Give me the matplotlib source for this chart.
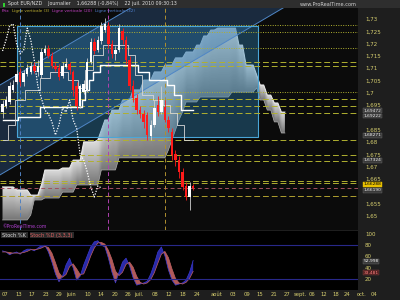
import numpy as np
import matplotlib
matplotlib.use("Agg")
import matplotlib.pyplot as plt
from matplotlib.patches import Polygon, Rectangle

# ---------------- data ----------------
opens = [1.6922, 1.6947, 1.6963, 1.7012, 1.7044, 1.7085, 1.7044, 1.7077, 1.7085, 1.7109,
         1.7085, 1.7073, 1.7162, 1.7178, 1.7150, 1.7109, 1.7101, 1.7068, 1.7105, 1.7117,
         1.7085, 1.7028, 1.6947, 1.7003, 1.7012, 1.7125, 1.7207, 1.7174, 1.7211, 1.7255,
         1.7271, 1.7198, 1.7158, 1.7174, 1.7251, 1.7215, 1.7133, 1.7028, 1.6979, 1.6930,
         1.6914, 1.6910, 1.6825, 1.6870, 1.6951, 1.6922, 1.6943, 1.6890, 1.6841, 1.6752,
         1.6727, 1.6679, 1.6622, 1.6577, 1.6622]
closes = [1.6955, 1.6971, 1.7028, 1.7032, 1.7077, 1.7044, 1.7081, 1.7101, 1.7109, 1.7089,
          1.7109, 1.7166, 1.7178, 1.7150, 1.7109, 1.7097, 1.7064, 1.7109, 1.7117, 1.7093,
          1.7012, 1.6947, 1.7028, 1.7036, 1.7125, 1.7207, 1.7170, 1.7215, 1.7271, 1.7280,
          1.7198, 1.7158, 1.7174, 1.7263, 1.7215, 1.7133, 1.7028, 1.6979, 1.6930, 1.6914,
          1.6882, 1.6829, 1.6870, 1.6938, 1.6922, 1.6971, 1.6890, 1.6857, 1.6748, 1.6727,
          1.6679, 1.6618, 1.6577, 1.6622, 1.6614]
highs = [1.6971, 1.6987, 1.7044, 1.7052, 1.7093, 1.7101, 1.7093, 1.7117, 1.7125, 1.7125,
         1.7133, 1.7182, 1.7194, 1.7194, 1.7166, 1.7125, 1.7117, 1.7125, 1.7142, 1.7125,
         1.7093, 1.7044, 1.7036, 1.7052, 1.7142, 1.7223, 1.7223, 1.7231, 1.7288, 1.7304,
         1.7288, 1.7215, 1.7190, 1.7280, 1.7263, 1.7231, 1.7150, 1.7052, 1.6995, 1.6947,
         1.6930, 1.6922, 1.6890, 1.6971, 1.6987, 1.7028, 1.6971, 1.6906, 1.6857, 1.6768,
         1.6744, 1.6695, 1.6638, 1.6638, 1.6630]
lows = [1.6898, 1.6938, 1.6955, 1.7003, 1.7036, 1.7028, 1.7028, 1.7068, 1.7077, 1.7081,
        1.7068, 1.7060, 1.7154, 1.7142, 1.7101, 1.7089, 1.7052, 1.7060, 1.7101, 1.7077,
        1.6987, 1.6930, 1.6938, 1.6995, 1.7003, 1.7117, 1.7158, 1.7166, 1.7198, 1.7247,
        1.7182, 1.7142, 1.7133, 1.7166, 1.7198, 1.7117, 1.7012, 1.6963, 1.6914, 1.6898,
        1.6857, 1.6809, 1.6809, 1.6861, 1.6906, 1.6914, 1.6882, 1.6841, 1.6727, 1.6703,
        1.6654, 1.6606, 1.6565, 1.6524, 1.6606]

tenkan = [1.6809, 1.6809, 1.6870, 1.6870, 1.6971, 1.6971, 1.6971, 1.7012, 1.7012, 1.7012,
          1.7012, 1.7060, 1.7060, 1.7060, 1.7085, 1.7085, 1.7085, 1.7085, 1.7085, 1.7052,
          1.7052, 1.7052, 1.7020, 1.7020, 1.7093, 1.7093, 1.7154, 1.7154, 1.7154, 1.7194,
          1.7194, 1.7194, 1.7194, 1.7194, 1.7194, 1.7194, 1.7154, 1.7154, 1.7073, 1.7073,
          1.6991, 1.6991, 1.6991, 1.6971, 1.6971, 1.6971, 1.6951, 1.6951, 1.6918, 1.6918,
          1.6870, 1.6870, 1.6809, 1.6809, 1.6809]
kijun = [1.6890, 1.6890, 1.6890, 1.6890, 1.6890, 1.6902, 1.6902, 1.6902, 1.6902, 1.6902,
         1.6902, 1.6943, 1.6943, 1.6943, 1.6943, 1.6943, 1.6943, 1.6943, 1.6943, 1.6943,
         1.6943, 1.6943, 1.6943, 1.6971, 1.7012, 1.7052, 1.7085, 1.7085, 1.7113, 1.7113,
         1.7113, 1.7113, 1.7113, 1.7113, 1.7113, 1.7113, 1.7113, 1.7113, 1.7113, 1.7085,
         1.7085, 1.7085, 1.7052, 1.7052, 1.7052, 1.7052, 1.7052, 1.7032, 1.7032, 1.6991,
         1.6991, 1.6930, 1.6930, 1.6930, 1.6930]
span_a = [1.6618, 1.6618, 1.6618, 1.6618, 1.6606, 1.6606, 1.6606, 1.6606, 1.6585, 1.6585,
          1.6585, 1.6626, 1.6687, 1.6687, 1.6687, 1.6687, 1.6687, 1.6695, 1.6695, 1.6695,
          1.6727, 1.6727, 1.6727, 1.6801, 1.6801, 1.6801, 1.6801, 1.6809, 1.6849, 1.6890,
          1.6890, 1.6930, 1.6930, 1.6930, 1.6971, 1.6971, 1.6971, 1.7012, 1.7012, 1.7012,
          1.7052, 1.7052, 1.7052, 1.7085, 1.7085, 1.7085, 1.7113, 1.7113, 1.7113, 1.7142,
          1.7142, 1.7142, 1.7166, 1.7166, 1.7166, 1.7194, 1.7194, 1.7231, 1.7231, 1.7255,
          1.7255, 1.7263, 1.7263, 1.7263, 1.7263, 1.7263, 1.7263, 1.7194, 1.7194, 1.7113,
          1.7113, 1.7113, 1.7073, 1.7032, 1.7032, 1.6991, 1.6991, 1.6959, 1.6959, 1.6922,
          1.6922]
span_b = [1.6484, 1.6484, 1.6484, 1.6484, 1.6484, 1.6484, 1.6484, 1.6484, 1.6504, 1.6565,
          1.6565, 1.6565, 1.6573, 1.6573, 1.6573, 1.6573, 1.6573, 1.6597, 1.6597, 1.6597,
          1.6597, 1.6626, 1.6626, 1.6626, 1.6626, 1.6626, 1.6626, 1.6626, 1.6687, 1.6687,
          1.6687, 1.6687, 1.6687, 1.6736, 1.6736, 1.6736, 1.6736, 1.6736, 1.6736, 1.6736,
          1.6736, 1.6736, 1.6736, 1.6736, 1.6736, 1.6736, 1.6736, 1.6768, 1.6809, 1.6849,
          1.6890, 1.6922, 1.6963, 1.6963, 1.6963, 1.6963, 1.6983, 1.6983, 1.6983, 1.6983,
          1.6983, 1.6983, 1.6983, 1.6983, 1.6983, 1.7003, 1.7003, 1.7003, 1.7003, 1.7003,
          1.7003, 1.7003, 1.7020, 1.6971, 1.6971, 1.6930, 1.6930, 1.6882, 1.6882, 1.6837,
          1.6837]

stoch_k = [70, 68, 63, 66, 68, 64, 70, 73, 73, 70, 75, 79, 80, 68, 50, 29, 15, 25, 45, 57,
           40, 18, 25, 45, 61, 77, 86, 88, 80, 77, 57, 32, 13, 32, 50, 57, 43, 22, 9, 11,
           13, 16, 29, 47, 68, 77, 61, 36, 18, 9, 11, 13, 18, 32, 53.0]
stoch_d = [68, 68, 67, 66, 66, 66, 67, 69, 72, 72, 73, 75, 78, 76, 66, 49, 31, 23, 28, 42,
           47, 38, 28, 29, 44, 61, 75, 84, 85, 82, 71, 55, 34, 26, 32, 46, 50, 41, 25, 14,
           11, 13, 19, 31, 48, 64, 69, 58, 38, 21, 13, 11, 14, 21, 33.5]

h_levels = [1.7276, 1.7247, 1.7182, 1.7125, 1.7109, 1.7003, 1.6975, 1.6947, 1.6918,
            1.6809, 1.6748, 1.6723, 1.6642, 1.6634, 1.6614, 1.6581]
v_lines = [5, 30, 46]
rect_x = [4.1, 72.4]
rect_y = [1.6821, 1.7272]
chan_x = [-0.71, 100.7]
chan_lower = [1.6667, 1.7524]
chan_upper = [1.7032, 1.7889]

price_ticks = [1.65, 1.655, 1.66, 1.665, 1.67, 1.675, 1.68, 1.685, 1.69, 1.695,
               1.70, 1.705, 1.71, 1.715, 1.72, 1.725, 1.73]
hidden_ticks = [1.66, 1.69]
date_ticks = [0.7, 4.7, 8.4, 12.3, 16.0, 19.4, 24.2, 27.9, 31.9, 35.6, 38.7, 43.2, 47.2,
              51.1, 55.1, 60.5, 65.3, 69.3, 73.0, 76.9, 80.6, 84.3, 87.7, 91.1, 94.5,
              97.6, 101.8, 105.2]
date_labels = ["07", "13", "17", "23", "29", "juin", "10", "14", "20", "26", "juil.",
               "08", "12", "18", "24", "août", "03", "09", "15", "21", "27", "sept.",
               "06", "12", "18", "24", "oct.", "04"]
price_boxes = [(1.6928, "1,69472"), (1.6906, "1,69222"), (1.6827, "1,68271"),
               (1.6726, "1,67324"), (1.6604, "1,66190")]
last_price = (1.6628, "1,66288")
stoch_boxes = [(51.1, "52,998"), (31.5, "33,481")]
legend_items = ["Prix", "Ligne verticale (3)", "Ligne verticale (20)", "Ligne verticale (32)"]

# ---------------- figure ----------------
W, H = 400, 300
fig = plt.figure(figsize=(4, 3), dpi=100)
fig.patch.set_facecolor('#1e1e1e')


def box(x0, y0, x1, y1):
    return [x0 / W, 1 - y1 / H, (x1 - x0) / W, (y1 - y0) / H]


XL = (-0.71, 100.7)
ax = fig.add_axes(box(0, 8, 358, 230))
ax.set_facecolor('#0b0b0b')
ax.set_xlim(*XL)
ylo, yhi = 1.64432, 1.73445
ax.set_ylim(ylo, yhi)
for s in ax.spines.values():
    s.set_visible(False)

# cloud with gradient
cx = np.arange(len(span_a))
top = np.maximum(span_a, span_b)
bot = np.minimum(span_a, span_b)
poly = np.concatenate([np.column_stack([cx, top]), np.column_stack([cx[::-1], bot[::-1]])])
patch = Polygon(poly, closed=True, facecolor='none', edgecolor='none')
ax.add_patch(patch)
gx = np.linspace(cx[0] - 0.5, cx[-1], 500)
gy = np.linspace(ylo, yhi, 400)
T = np.interp(gx, cx, top)
B = np.interp(gx, cx, bot)
GX, GY = np.meshgrid(gx, gy)
t = np.clip((T[None, :] - GY) / np.maximum(T - B, 1e-6)[None, :], 0, 1)
val = 0.86 - 0.40 * t
im = ax.imshow(val, extent=[gx[0], gx[-1], gy[0], gy[-1]], origin='lower', cmap='gray',
               vmin=0, vmax=1, aspect='auto', zorder=1, interpolation='bilinear')
im.set_clip_path(patch)
ax.plot(cx, span_a, color='#f0f0f0', lw=0.7, zorder=2)
ax.plot(cx, span_b, color='#b0b0b0', lw=0.5, zorder=2)

# channel
ax.fill_between(chan_x, chan_lower, chan_upper, color='#3a6aa8', alpha=0.33, lw=0, zorder=2)
ax.plot(chan_x, chan_lower, color='#4f86c6', lw=0.7, zorder=3)
ax.plot(chan_x, chan_upper, color='#4f86c6', lw=0.7, zorder=3)

# rectangle
ax.add_patch(Rectangle((rect_x[0], rect_y[0]), rect_x[1] - rect_x[0], rect_y[1] - rect_y[0],
                       facecolor='#2f86b8', alpha=0.38, edgecolor='none', zorder=2.5))
ax.add_patch(Rectangle((rect_x[0], rect_y[0]), rect_x[1] - rect_x[0], rect_y[1] - rect_y[0],
                       facecolor='none', edgecolor='#4aa6d8', lw=0.8, zorder=3))

# horizontal lines
h_styles = [(0, (1, 1.5)), (0, (1, 1.5)), (0, (1, 1.5)), (0, (6, 3)), (0, (6, 3)),
            (0, (1, 1.5)), (0, (6, 3)), (0, (6, 3)), (0, (6, 3)), (0, (6, 3)), (0, (6, 3)),
            (0, (6, 3)), (0, (6, 3)), (0, (6, 3)), (0, (4, 3)), (0, (6, 3))]
h_colors = ['#b0b030'] * 14 + ['#a05060', '#b0a030']
for lev, ls, c in zip(h_levels, h_styles, h_colors):
    ax.axhline(lev, color=c, lw=0.7, ls=ls, zorder=3.5)

# vertical lines
for xv, c in zip(v_lines, ['#5080c0', '#b040b0', '#b09030']):
    ax.axvline(xv, color=c, lw=0.7, ls=(0, (4, 3)), zorder=3.5)

# ichimoku lines
idx = np.arange(len(closes))
ax.plot(idx, kijun, color='#ffffff', lw=1.0, drawstyle='steps-mid', zorder=4)
ax.plot(idx, tenkan, color='#d8d8d8', lw=0.6, drawstyle='steps-mid', zorder=4)
ax.plot(idx[:-26], closes[26:], color='#ffffff', lw=0.9, ls=(0, (1, 1.2)), zorder=4)

# candles
o = np.array(opens); c = np.array(closes); hh = np.array(highs); ll = np.array(lows)
up = c >= o
col = np.where(up, '#ffffff', '#ff1a1a')
ax.vlines(idx, ll, hh, colors=np.where(up, '#cfcfcf', '#ff1a1a'), lw=0.6, zorder=5)
ax.bar(idx, np.abs(c - o), bottom=np.minimum(o, c), width=0.7, color=col, edgecolor='none', zorder=6)

# price axis
ax.yaxis.tick_right()
ax.set_yticks(price_ticks)
ax.set_yticklabels(['' if p in hidden_ticks else ('%g' % p).replace('.', ',') for p in price_ticks])
ax.tick_params(axis='y', length=0, pad=5, labelsize=4.0, labelcolor='#d8d070')
ax.set_xticks([])

bbox_g = dict(boxstyle='square,pad=0.08', facecolor='#3a3a3a', edgecolor='#6a6a6a', lw=0.3)
for p, s in price_boxes:
    ax.annotate(s, xy=(1.0, p), xycoords=('axes fraction', 'data'), xytext=(4, 0),
                textcoords='offset points', fontsize=3.2, color='#f0f0f0', va='center',
                bbox=bbox_g, annotation_clip=False)
ax.annotate(last_price[1], xy=(1.0, last_price[0]), xycoords=('axes fraction', 'data'),
            xytext=(4, 0), textcoords='offset points', fontsize=3.2, color='#000000',
            va='center', annotation_clip=False,
            bbox=dict(boxstyle='square,pad=0.08', facecolor='#e8c000', edgecolor='#e8c000', lw=0.3))

# ---------------- stochastic ----------------
ax2 = fig.add_axes(box(0, 231, 358, 290))
ax2.set_facecolor('#000000')
ax2.set_xlim(*XL)
ax2.set_ylim(0.4, 105.3)
for s in ax2.spines.values():
    s.set_visible(False)
k = np.array(stoch_k, float); d = np.array(stoch_d, float)
ax2.fill_between(idx, k, d, where=k >= d, interpolate=True, color='#2a2aa8', lw=0)
ax2.fill_between(idx, k, d, where=k < d, interpolate=True, color='#b05a5a', lw=0)
ax2.plot(idx, k, color='#3a3ad0', lw=0.5)
ax2.plot(idx, d, color='#c06060', lw=0.5)
ax2.axhline(80, color='#28288a', lw=0.8)
ax2.axhline(20, color='#28288a', lw=0.8)
ax2.yaxis.tick_right()
ax2.set_yticks([20, 40, 60, 80, 100])
ax2.set_yticklabels(['20', '40', '60', '80', '100'])
ax2.tick_params(axis='y', length=0, pad=5, labelsize=4.0, labelcolor='#d8d070')
ax2.set_xticks([])
ax2.annotate(stoch_boxes[0][1], xy=(1.0, stoch_boxes[0][0]), xycoords=('axes fraction', 'data'),
             xytext=(4, 0), textcoords='offset points', fontsize=3.2, color='#f0f0f0',
             va='center', bbox=bbox_g, annotation_clip=False)
ax2.annotate(stoch_boxes[1][1], xy=(1.0, stoch_boxes[1][0]), xycoords=('axes fraction', 'data'),
             xytext=(4, 0), textcoords='offset points', fontsize=3.2, color='#ff8080',
             va='center', annotation_clip=False,
             bbox=dict(boxstyle='square,pad=0.08', facecolor='#502020', edgecolor='#804040', lw=0.3))
ax2.text(0.005, 0.93, 'Stoch %K ', transform=ax2.transAxes, fontsize=3.6, color='#e0e0e0',
         va='center', bbox=dict(boxstyle='square,pad=0.15', facecolor='#2a2a2a', edgecolor='none'))
ax2.text(0.085, 0.93, 'Stoch %D (3,3,3)', transform=ax2.transAxes, fontsize=3.6, color='#e06060',
         va='center', bbox=dict(boxstyle='square,pad=0.15', facecolor='#2a2a2a', edgecolor='none'))

# date labels
trans = ax2.get_xaxis_transform()
for xt, lab in zip(date_ticks, date_labels):
    ax2.text(xt, -0.08, lab, transform=trans, fontsize=3.8, color='#d8d070',
             ha='center', va='center', clip_on=False)

# ---------------- header ----------------
fig.add_artist(Rectangle((0, 1 - 8 / H), 1, 8 / H, transform=fig.transFigure,
                         facecolor='#2e2e2e', edgecolor='none'))
fig.add_artist(Rectangle((3 / W, 1 - 6.5 / H), 2 / W, 4 / H, transform=fig.transFigure,
                         facecolor='#30d030', edgecolor='none'))
fig.text(8 / W, 1 - 4 / H, 'Spot EUR/NZD    Journalier    1,66288 (-0,84%)    22 juil. 2010 09:30:13',
         fontsize=3.4, color='#e0e0e0', va='center')
fig.text(300 / W, 1 - 4 / H, 'www.ProRealTime.com', fontsize=3.6, color='#d0d0d0', va='center')

renderer = fig.canvas.get_renderer()
xpos = 2.0
for lab, colr in zip(legend_items, ['#d040d0', '#c0b030', '#c040c0', '#5080d0']):
    tx = fig.text(xpos / W, 1 - 11 / H, lab, fontsize=3.0, color=colr, va='center')
    bb = tx.get_window_extent(renderer=renderer)
    xpos += bb.width + 2.5

fig.text(2 / W, 1 - 227 / H, '©ProRealTime.com', fontsize=3.3, color='#b040d0', va='center')

fig.savefig('out.png', dpi=100, facecolor=fig.get_facecolor())
